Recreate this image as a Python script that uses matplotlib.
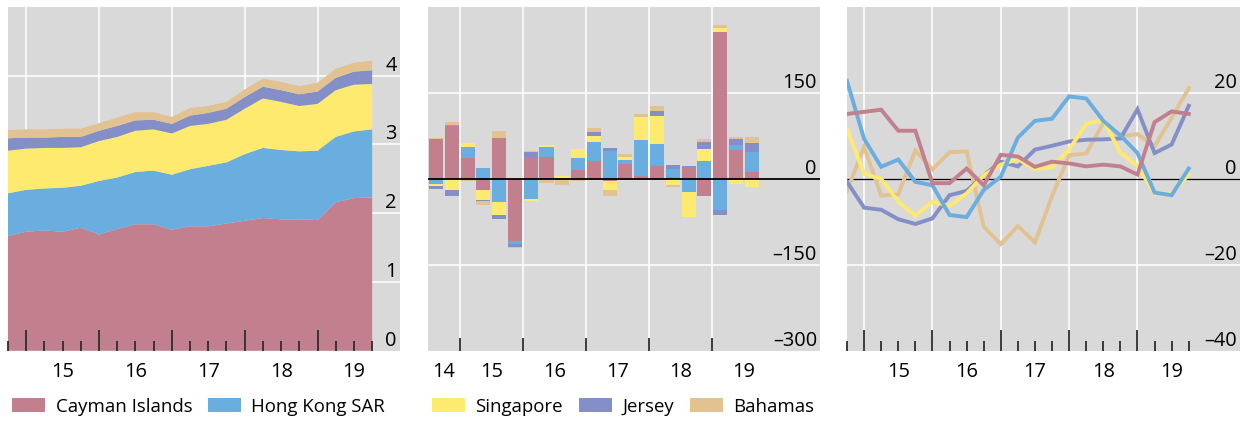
import numpy as np
import matplotlib
matplotlib.use("Agg")
import matplotlib.pyplot as plt
from matplotlib.patches import Patch
from matplotlib.transforms import blended_transform_factory, offset_copy

plt.rcParams["font.family"] = ["Open Sans", "DejaVu Sans"]

# ---------------------------------------------------------------- data
series_names = ["Cayman Islands", "Hong Kong SAR", "Singapore", "Jersey", "Bahamas"]
series_colors = ["#c27f8e", "#6aaee0", "#ffea70", "#838fc6", "#e2c291"]

# quarterly index 0..20 (Q4 2014 .. Q4 2019)
quarters = np.arange(21)

# left panel: outstanding stock, USD trn
cayman_stock = [1.67, 1.73, 1.75, 1.73, 1.79, 1.69, 1.77, 1.84, 1.84, 1.76, 1.81,
                1.81, 1.85, 1.89, 1.93, 1.91, 1.91, 1.90, 2.16, 2.22, 2.23]
hk_stock = [0.62, 0.61, 0.61, 0.64, 0.61, 0.78, 0.75, 0.76, 0.78, 0.80, 0.83,
            0.88, 0.89, 0.97, 1.02, 1.01, 0.99, 1.01, 0.95, 0.97, 0.99]
sg_stock = [0.62, 0.60, 0.59, 0.58, 0.56, 0.58, 0.59, 0.60, 0.60, 0.60, 0.63,
            0.61, 0.62, 0.66, 0.72, 0.70, 0.66, 0.68, 0.68, 0.68, 0.66]
je_stock = [0.18, 0.16, 0.15, 0.16, 0.15, 0.15, 0.16, 0.15, 0.14, 0.14, 0.15,
            0.16, 0.16, 0.17, 0.17, 0.17, 0.17, 0.18, 0.18, 0.19, 0.20]
bs_stock = [0.12, 0.12, 0.12, 0.12, 0.12, 0.11, 0.12, 0.12, 0.11, 0.10, 0.11,
            0.10, 0.10, 0.11, 0.12, 0.12, 0.12, 0.13, 0.13, 0.13, 0.14]

# middle panel: quarterly flows, USD bn (Q3 2014 .. Q3 2019)
flow_quarters = np.arange(21)
cayman_flow = [69, 92, 37, -19.6, 72, -108, 36, 39, 2, 15, 30.6, -4, 25.4, 4.6,
               22, 3, 20.2, -30, 257, 49.6, 11.5]
hk_flow = [-9.2, 2.3, 18, 18.5, -40.4, -5.2, -35.2, 17.3, 0, 20.8, 34.6, 48,
           6.9, 64, 38, 13.8, -23, 30.6, -54, 8.7, 34.6]
sg_flow = [-3.5, -19.6, 7, -17.3, -22.5, 1.5, -3.5, 3.5, 3, 15.6, 10.4, -15.6,
           5.2, 40, 50, -11, -43, 20.8, 6.9, -9.2, -14.4]
je_flow = [-5.2, -10.4, 0, -1.7, -6.9, -5.2, 10.4, 0, 0, 0, 6.9, 5.2, 0, 0,
           8.7, 6.9, 1.7, 12.1, -8.7, 10.4, 17.3]
bs_flow = [2.3, 5.2, -3, -6.9, 12, -1.7, 1.7, -7.5, -11, -4, 6.9, -10.4, 5.2,
           5.2, 8.7, -3.5, 1.2, 6.9, 4.6, 5.2, 10.4]

# right panel: annual growth, per cent
cayman_growth = [15.1, 15.6, 16.1, 11.2, 11.2, -1.0, -1.0, 2.4, -1.5, 5.6, 5.2,
                 2.8, 4.0, 3.6, 2.9, 3.3, 2.9, 1.0, 13.2, 15.7, 15.1]
hk_growth = [22.8, 9.3, 2.8, 4.5, -0.7, -1.5, -8.4, -8.9, -2.6, 0.5, 9.6, 13.5,
             14.0, 19.2, 18.7, 13.5, 10.1, 6.0, -3.2, -3.8, 2.4]
sg_growth = [11.6, 1.2, 0.0, -5.3, -8.6, -5.3, -6.3, -3.4, 0.8, 3.3, 4.6, 2.3,
             2.7, 6.8, 12.8, 13.7, 6.1, 3.0, -3.4, -3.4, 1.0]
je_growth = [-0.7, -6.7, -7.2, -9.4, -10.5, -9.2, -3.8, -2.8, 0.8, 4.0, 2.9, 6.8,
             7.7, 8.7, 9.1, 9.2, 9.4, 16.2, 6.0, 8.0, 17.0]
bs_growth = [-2.8, 7.4, -3.9, -3.6, 6.6, 2.2, 6.2, 6.4, -11.1, -15.2, -11.0,
             -14.8, -4.0, 5.5, 5.9, 13.0, 9.9, 10.4, 7.6, 14.2, 21.1]

year_labels = ["15", "16", "17", "18", "19"]
flow_year_labels = ["14", "15", "16", "17", "18", "19"]
stock_ticks = [0, 1, 2, 3, 4]
flow_ticks = [-300, -150, 0, 150]
growth_ticks = [-40, -20, 0, 20]

# ---------------------------------------------------------------- layout
W, H = 1240, 421
fig = plt.figure(figsize=(W / 100, H / 100), dpi=100)
fig.patch.set_facecolor("white")

BG = "#d9d9d9"
TICK = "#2e2e2e"
FS = 14.4


def make_axes(x0, x1, y_top=7, y_bot=350.7):
    ax = fig.add_axes([x0 / W, 1 - y_bot / H, (x1 - x0) / W, (y_bot - y_top) / H])
    ax.set_facecolor(BG)
    for s in ax.spines.values():
        s.set_visible(False)
    ax.set_yticks([])
    ax.set_axisbelow(False)
    return ax


def fmt(v):
    return f"{v:g}".replace("-", "\u2013")


def y_labels(ax, ticks):
    tr = offset_copy(blended_transform_factory(ax.transAxes, ax.transData),
                     fig=fig, x=-3, y=5, units="dots")
    for v in ticks:
        ax.text(1, v, fmt(v), transform=tr, ha="right", va="baseline",
                fontsize=FS, color="black", zorder=5)


def grid(ax, hvals, vvals):
    for v in hvals:
        ax.axhline(v, color="white", lw=1.1, zorder=0.2)
    for v in vvals:
        ax.axvline(v, color="white", lw=1.1, zorder=0.2)


def x_axis(ax, majors, minors, centers, labels, major_len, minor_len):
    ax.set_xticks(majors)
    ax.set_xticklabels([])
    if minors is not None:
        ax.set_xticks(minors, minor=True)
    ax.tick_params(axis="x", which="major", direction="in", length=major_len,
                   width=1.3, color=TICK, labelbottom=False)
    ax.tick_params(axis="x", which="minor", direction="in", length=minor_len,
                   width=1.3, color=TICK, labelbottom=False)
    sec = ax.secondary_xaxis("bottom")
    sec.set_xticks(centers, labels)
    sec.tick_params(length=0, pad=8, labelsize=FS)
    for s in sec.spines.values():
        s.set_visible(False)


# ---------------------------------------------------------------- left: stacked area
ax1 = make_axes(8, 400)
ax1.set_xlim(0, 21.53)
ax1.set_ylim(0, 5)
year_bounds = [1, 5, 9, 13, 17]
grid(ax1, stock_ticks[1:], year_bounds)
ax1.stackplot(quarters, cayman_stock, hk_stock, sg_stock, je_stock, bs_stock,
              colors=series_colors, linewidth=0, zorder=1)
x_axis(ax1, year_bounds, quarters, [3, 7, 11, 15, 19], year_labels, 15, 7.2)
y_labels(ax1, stock_ticks)

# ---------------------------------------------------------------- middle: stacked bars
ax2 = make_axes(428, 820)
ax2.set_xlim(-0.507, 24.33)
ax2.set_ylim(-300, 300)
flow_bounds = [1.5, 5.5, 9.5, 13.5, 17.5]
grid(ax2, [-150, 150], flow_bounds)
flows = [cayman_flow, hk_flow, sg_flow, je_flow, bs_flow]
pos_base = np.zeros(len(flow_quarters))
neg_base = np.zeros(len(flow_quarters))
for vals, col in zip(flows, series_colors):
    vals = np.asarray(vals, dtype=float)
    base = np.where(vals >= 0, pos_base, neg_base)
    ax2.bar(flow_quarters, vals, bottom=base, width=0.89, color=col,
            linewidth=0, zorder=1)
    pos_base = pos_base + np.clip(vals, 0, None)
    neg_base = neg_base + np.clip(vals, None, 0)
ax2.axhline(0, color="black", lw=1.3, zorder=3)
x_axis(ax2, flow_bounds, None, [0.5, 3.5, 7.5, 11.5, 15.5, 19.5],
       flow_year_labels, 9.4, 0)
y_labels(ax2, flow_ticks)

# ---------------------------------------------------------------- right: growth lines
ax3 = make_axes(847, 1240)
ax3.set_xlim(0, 23)
ax3.set_ylim(-40, 40)
grid(ax3, [-20, 20], year_bounds)
ax3.axhline(0, color="black", lw=0.9, zorder=1)
growth = [cayman_growth, hk_growth, sg_growth, je_growth, bs_growth]
for vals, col in reversed(list(zip(growth, series_colors))):
    ax3.plot(quarters, vals, color=col, lw=2.8, zorder=2, solid_joinstyle="miter")
x_axis(ax3, year_bounds, quarters, [3, 7, 11, 15, 19], year_labels, 15, 7.2)
y_labels(ax3, growth_ticks)

# ---------------------------------------------------------------- legends
handles = [Patch(facecolor=c, edgecolor="none") for c in series_colors]
leg_kw = dict(loc="center left", frameon=False, borderpad=0, borderaxespad=0,
              handlelength=1.78, handleheight=0.8, handletextpad=0.55,
              columnspacing=0.85, fontsize=13.4)
fig.legend(handles[:2], series_names[:2], ncol=2,
           bbox_to_anchor=(12.3 / W, 1 - 406.5 / H), **leg_kw)
fig.legend(handles[2:], series_names[2:], ncol=3,
           bbox_to_anchor=(432 / W, 1 - 406.5 / H), **leg_kw)

fig.savefig("out.png", dpi=100, facecolor="white")
